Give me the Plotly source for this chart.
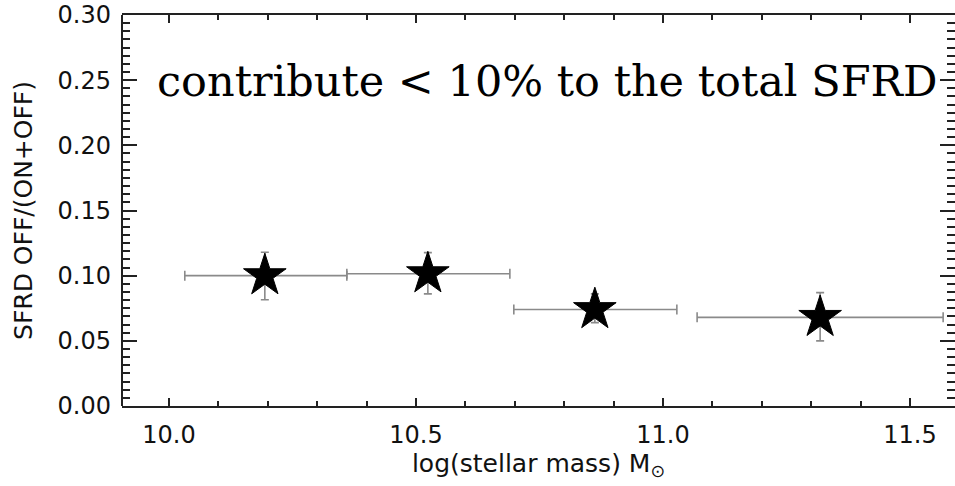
import plotly.graph_objects as go

# Data
log_mass = [10.194, 10.524, 10.862, 11.318]
sfrd_frac = [0.100, 0.1015, 0.074, 0.068]
bin_low = [10.032, 10.36, 10.698, 11.069]
bin_high = [10.36, 10.69, 11.028, 11.567]
err_high = [0.118, 0.1177, 0.086, 0.087]
err_low = [0.0815, 0.086, 0.064, 0.050]

x_tick_step = 0.5
x_minor_step = 0.1
y_tick_step = 0.05
y_minor_step = 0.00625

x_range = [9.9049, 11.591]
y_range = [0, 0.30]

ex_plus = [h - c for h, c in zip(bin_high, log_mass)]
ex_minus = [c - l for c, l in zip(log_mass, bin_low)]
ey_plus = [h - v for h, v in zip(err_high, sfrd_frac)]
ey_minus = [v - l for v, l in zip(sfrd_frac, err_low)]

fig = go.Figure()
# invisible helper trace so the minor-tick overlay axes are drawn
fig.add_trace(go.Scatter(x=[log_mass[0]], y=[sfrd_frac[0]], xaxis="x2", yaxis="y2",
                         mode="markers", marker=dict(opacity=0),
                         showlegend=False, hoverinfo="skip"))
fig.add_trace(go.Scatter(
    x=log_mass, y=sfrd_frac, mode="markers",
    marker=dict(symbol="star", size=32, color="black",
                line=dict(color="black", width=1)),
    error_x=dict(type="data", symmetric=False, array=ex_plus, arrayminus=ex_minus,
                 color="#8a8a8a", thickness=1.6, width=5),
    error_y=dict(type="data", symmetric=False, array=ey_plus, arrayminus=ey_minus,
                 color="#8a8a8a", thickness=1.6, width=4),
    showlegend=False, hoverinfo="skip",
))

axis_font = dict(family="DejaVu Sans", size=24, color="#111")
tick_col = "#222"
fig.update_layout(
    width=955, height=486,
    margin=dict(l=122, r=0, t=15, b=80),
    paper_bgcolor="white", plot_bgcolor="white",
    xaxis=dict(
        range=x_range, showgrid=False, zeroline=False,
        showline=True, linecolor=tick_col, linewidth=2, mirror="ticks",
        tickmode="linear", tick0=10.0, dtick=x_tick_step, tickformat=".1f",
        ticks="inside", ticklen=8, tickwidth=2, tickcolor=tick_col,
        tickfont=axis_font, ticklabelstandoff=6,
        title=dict(text="log(stellar mass) M<sub>⊙</sub>",
                   font=dict(family="DejaVu Sans", size=25, color="#111"),
                   standoff=5),
    ),
    yaxis=dict(
        range=y_range, showgrid=False, zeroline=False,
        showline=False, mirror="ticks",
        tickmode="linear", tick0=0, dtick=y_tick_step, tickformat=".2f",
        ticks="inside", ticklen=15, tickwidth=2, tickcolor=tick_col,
        tickfont=axis_font, ticklabelstandoff=10,
        title=dict(text="SFRD OFF/(ON+OFF)",
                   font=dict(family="DejaVu Sans", size=25, color="#111"),
                   standoff=17),
    ),
    xaxis2=dict(
        overlaying="x", anchor="y2", side="bottom", range=x_range,
        showgrid=False, zeroline=False, showline=False, mirror="ticks",
        tickmode="linear", tick0=10.0, dtick=x_minor_step,
        ticks="inside", ticklen=5, tickwidth=2, tickcolor=tick_col,
        showticklabels=False,
    ),
    yaxis2=dict(
        overlaying="y", anchor="x2", side="left", range=y_range,
        showgrid=False, zeroline=False, showline=False, mirror="ticks",
        tickmode="linear", tick0=0, dtick=y_minor_step,
        ticks="inside", ticklen=8, tickwidth=2, tickcolor=tick_col,
        showticklabels=False,
    ),
    shapes=[dict(type="line", xref="paper", yref="paper", x0=0, x1=0, y0=0, y1=1,
                 line=dict(color=tick_col, width=2))],
    annotations=[dict(
        text="contribute &lt; 10% to the total SFRD",
        xref="paper", yref="paper", x=0.0396, y=0.83,
        xanchor="left", yanchor="middle", showarrow=False,
        font=dict(family="DejaVu Serif", size=43, color="black"),
    )],
)

fig.write_html("out.html")
